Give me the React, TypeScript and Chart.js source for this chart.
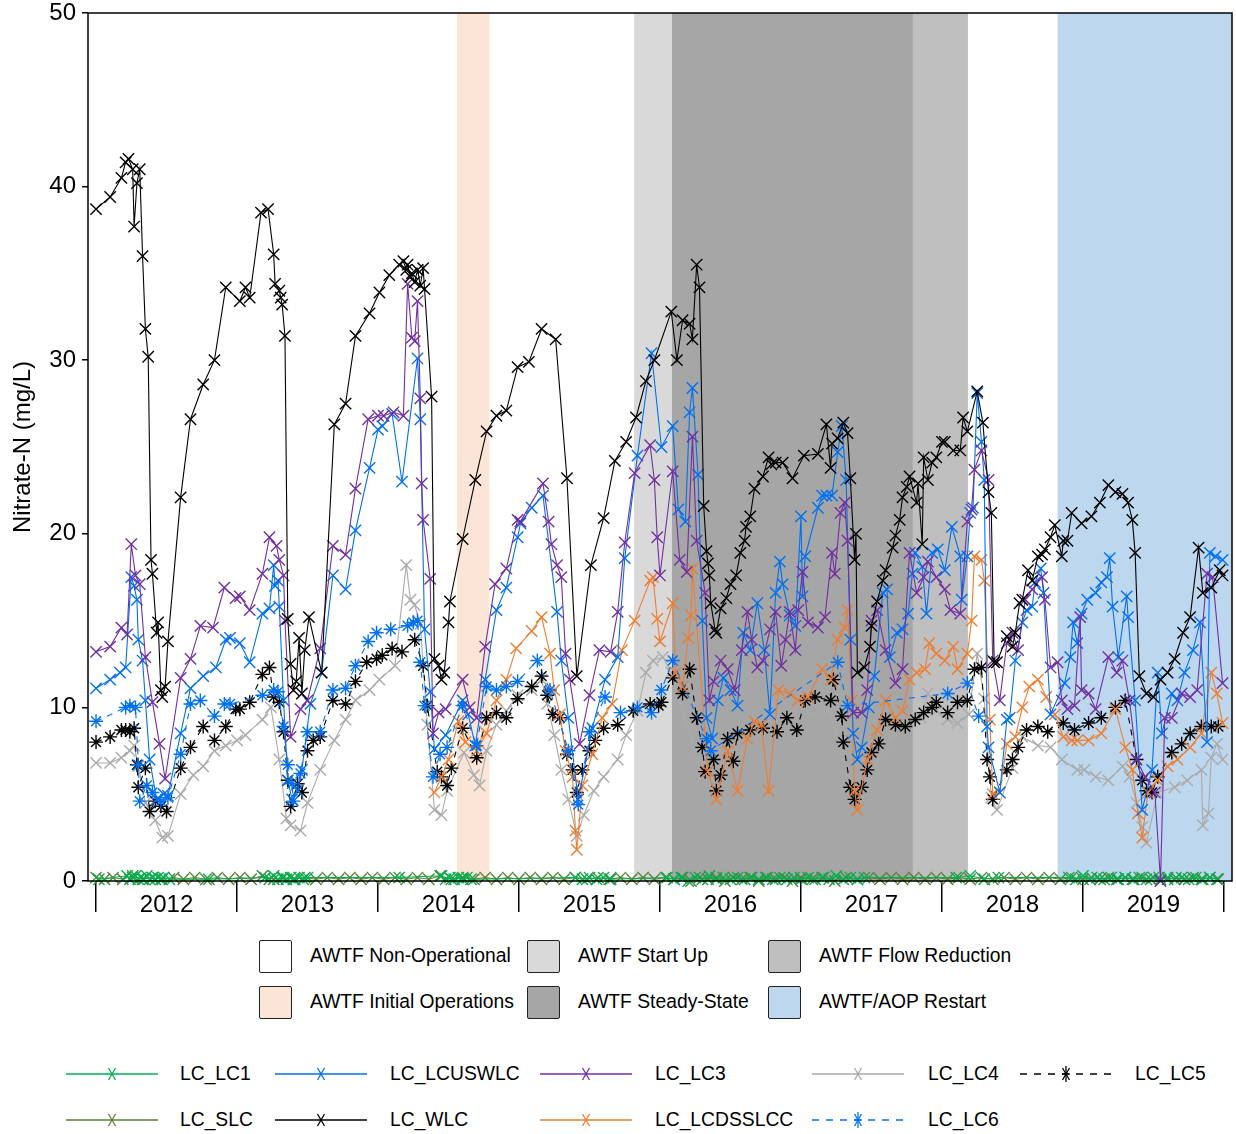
import React, { useEffect, useRef } from 'react';
import { Chart, registerables } from 'chart.js';
Chart.register(...registerables);

const FONT = '"Liberation Sans", Arial, Helvetica, sans-serif';

// ---------- axis ----------
const xMin = 2011.943;
const xMax = 2020.057;
const yearTicks = [2012, 2012.5, 2013, 2013.5, 2014, 2014.5, 2015, 2015.5, 2016, 2016.5, 2017, 2017.5, 2018, 2018.5, 2019, 2019.5, 2020];
const yTitle = 'Nitrate-N (mg/L)';

// ---------- operational periods (background bands) ----------
const bandLabels = ['AWTF Initial Operations', 'AWTF Start Up', 'AWTF Steady-State', 'AWTF Flow Reduction', 'AWTF/AOP Restart'];
const bandStart = [2014.56, 2015.816, 2016.085, 2017.794, 2018.82];
const bandEnd = [2014.79, 2016.085, 2017.794, 2018.184, 2020.06];
const bandColors = ['#fbe5d6', '#d9d9d9', '#a6a6a6', '#bfbfbf', '#bdd7ee'];

// ---------- series (decimal year, mg/L) ----------
const lcWLC: [number, number][] = [
  [2012.00,38.7],[2012.10,39.4],[2012.18,40.5],[2012.21,41.4],[2012.23,41.6],[2012.26,41.0],[2012.27,37.7],[2012.29,40.2],[2012.31,41.0],[2012.33,36.0],[2012.35,31.8],[2012.37,30.2],[2012.39,18.5],[2012.40,17.7],[2012.43,14.3],[2012.44,14.9],[2012.46,11.0],[2012.47,10.6],[2012.49,11.2],[2012.51,13.8],[2012.60,22.1],[2012.67,26.6],[2012.76,28.6],[2012.84,30.0],[2012.92,34.2],
  [2013.02,33.4],[2013.06,34.2],[2013.09,33.6],[2013.17,38.5],[2013.22,38.7],[2013.26,36.1],[2013.27,34.4],[2013.30,34.0],[2013.31,33.6],[2013.32,33.2],[2013.34,31.4],[2013.36,15.1],[2013.38,12.5],[2013.40,11.0],[2013.42,11.5],[2013.44,14.0],[2013.46,10.8],[2013.48,13.3],[2013.51,15.2],[2013.60,12.0],[2013.69,26.3],[2013.77,27.5],[2013.84,31.4],[2013.94,32.7],
  [2014.01,33.9],[2014.08,34.9],[2014.15,35.5],[2014.18,35.7],[2014.20,35.2],[2014.21,35.5],[2014.23,34.8],[2014.24,35.0],[2014.26,34.5],[2014.28,35.2],[2014.30,34.3],[2014.32,35.3],[2014.33,34.1],[2014.38,27.9],[2014.40,12.8],[2014.43,12.4],[2014.45,11.6],[2014.47,12.0],[2014.50,14.9],[2014.51,16.1],[2014.60,19.7],[2014.69,23.1],[2014.77,25.9],[2014.84,26.8],[2014.91,27.1],[2014.99,29.6],
  [2015.07,29.9],[2015.16,31.8],[2015.26,31.2],[2015.34,23.2],[2015.41,11.8],[2015.51,18.2],[2015.60,20.9],[2015.68,24.2],[2015.76,25.3],[2015.83,26.7],[2015.90,28.8],[2015.96,30.0],
  [2016.08,32.8],[2016.12,30.0],[2016.16,32.3],[2016.21,32.1],[2016.23,31.2],[2016.26,35.5],[2016.28,34.2],[2016.31,21.6],[2016.33,19.0],[2016.34,18.3],[2016.35,17.6],[2016.36,16.0],[2016.39,14.5],[2016.40,14.3],[2016.43,15.7],[2016.47,16.3],[2016.50,17.1],[2016.54,17.6],[2016.57,18.9],[2016.60,19.6],[2016.61,20.4],[2016.64,21.0],[2016.67,22.6],[2016.73,23.3],[2016.77,24.4],[2016.79,24.0],[2016.82,24.1],[2016.87,24.1],[2016.94,23.2],
  [2017.02,24.5],[2017.12,24.6],[2017.18,26.3],[2017.21,23.8],[2017.22,25.2],[2017.26,25.5],[2017.30,26.4],[2017.33,25.8],[2017.35,23.2],[2017.38,18.5],[2017.39,20.0],[2017.40,12.0],[2017.45,12.3],[2017.49,13.5],[2017.50,14.7],[2017.54,16.1],[2017.58,17.3],[2017.60,17.9],[2017.65,19.2],[2017.67,19.9],[2017.70,20.8],[2017.72,22.1],[2017.75,22.7],[2017.77,23.3],[2017.82,21.8],[2017.83,22.9],[2017.86,19.4],[2017.87,24.4],[2017.90,23.1],[2017.93,24.1],[2017.96,24.4],
  [2018.00,25.3],[2018.02,25.3],[2018.08,24.8],[2018.13,24.8],[2018.15,26.7],[2018.18,25.9],[2018.25,28.2],[2018.29,26.4],[2018.33,22.4],[2018.35,21.2],[2018.37,12.6],[2018.39,12.6],[2018.46,14.1],[2018.50,13.5],[2018.52,14.3],[2018.55,16.0],[2018.57,16.2],[2018.61,17.9],[2018.64,17.3],[2018.68,18.7],[2018.71,18.8],[2018.73,19.1],[2018.77,19.8],[2018.80,20.5],[2018.85,18.7],[2018.86,19.6],[2018.89,19.6],[2018.92,21.2],[2018.99,20.6],
  [2019.06,21.0],[2019.12,21.8],[2019.18,22.8],[2019.23,22.4],[2019.28,22.3],[2019.32,21.8],[2019.35,20.8],[2019.37,18.9],[2019.40,11.8],[2019.45,10.8],[2019.50,10.6],[2019.55,11.6],[2019.60,12.0],[2019.65,12.8],[2019.71,14.3],[2019.76,15.2],[2019.82,19.2],[2019.85,16.6],[2019.91,16.9],[2019.97,17.9],[2019.99,17.6]
];

const lcLC5: [number, number][] = [
  [2012.00,8.0],[2012.10,8.3],[2012.18,8.7],[2012.21,8.7],[2012.24,8.6],[2012.27,8.8],[2012.29,6.7],[2012.30,5.4],[2012.35,6.5],[2012.38,4.0],[2012.42,4.6],[2012.46,4.3],[2012.50,4.0],[2012.60,6.5],[2012.67,7.7],[2012.76,8.9],[2012.84,8.1],[2012.92,8.9],[2012.99,9.9],
  [2013.02,9.9],[2013.09,10.3],[2013.18,11.9],[2013.23,12.3],[2013.26,10.6],[2013.30,10.3],[2013.33,8.6],[2013.36,5.8],[2013.38,4.3],[2013.43,5.6],[2013.46,5.1],[2013.50,7.5],[2013.54,8.1],[2013.59,8.3],[2013.68,10.4],[2013.77,10.2],[2013.84,11.5],[2013.92,12.6],[2013.99,12.8],
  [2014.03,13.0],[2014.10,13.4],[2014.17,13.2],[2014.26,13.9],[2014.32,12.4],[2014.35,10.1],[2014.42,6.3],[2014.45,6.0],[2014.49,5.5],[2014.52,6.5],[2014.60,8.8],[2014.70,7.1],[2014.77,9.4],[2014.84,9.7],[2014.91,9.4],[2014.99,10.5],
  [2015.09,11.2],[2015.16,11.8],[2015.20,10.7],[2015.24,9.6],[2015.29,9.4],[2015.34,7.3],[2015.38,6.4],[2015.41,5.1],[2015.45,6.4],[2015.50,7.5],[2015.54,8.1],[2015.60,8.8],[2015.70,9.0],[2015.81,9.8],[2015.93,10.2],[2015.99,10.1],
  [2016.01,10.3],[2016.09,11.7],[2016.16,10.8],[2016.21,12.2],[2016.26,9.4],[2016.30,7.7],[2016.32,6.3],[2016.38,7.0],[2016.40,5.2],[2016.43,6.1],[2016.48,8.2],[2016.52,6.9],[2016.55,8.5],[2016.64,8.7],[2016.73,8.8],[2016.83,8.6],[2016.90,9.4],[2016.97,8.7],
  [2017.03,10.4],[2017.10,10.6],[2017.21,10.4],[2017.23,11.6],[2017.29,9.5],[2017.30,8.0],[2017.35,5.4],[2017.38,4.7],[2017.43,5.4],[2017.47,6.4],[2017.50,7.4],[2017.55,7.9],[2017.60,9.3],[2017.67,9.0],[2017.74,8.9],[2017.81,9.3],[2017.87,9.7],[2017.93,10.0],[2017.96,10.3],
  [2018.04,9.7],[2018.11,10.3],[2018.18,10.4],[2018.23,12.2],[2018.28,12.3],[2018.32,7.0],[2018.34,6.0],[2018.36,4.7],[2018.46,6.4],[2018.50,7.0],[2018.54,7.7],[2018.60,8.7],[2018.68,8.9],[2018.75,8.6],[2018.86,9.1],[2018.94,8.7],
  [2019.04,9.1],[2019.13,9.4],[2019.23,10.0],[2019.30,10.4],[2019.38,7.0],[2019.42,5.8],[2019.45,5.2],[2019.49,5.1],[2019.53,6.0],[2019.63,7.4],[2019.70,7.9],[2019.76,8.5],[2019.84,8.9],[2019.91,8.9],[2019.96,8.9]
];

const lcLC6: [number, number][] = [
  [2012.00,9.2],[2012.21,10.0],[2012.24,10.1],[2012.28,10.0],[2012.30,6.7],[2012.31,4.6],[2012.36,5.5],[2012.40,5.1],[2012.46,4.6],[2012.51,4.8],[2012.60,7.3],[2012.67,10.2],[2012.74,10.4],[2012.84,9.5],[2012.91,10.2],[2012.95,10.2],
  [2013.18,10.7],[2013.26,11.0],[2013.29,10.9],[2013.33,8.9],[2013.36,6.7],[2013.39,5.6],[2013.40,4.6],[2013.45,6.2],[2013.50,8.6],[2013.59,8.6],[2013.68,11.0],[2013.77,11.1],[2013.84,12.4],[2013.93,13.8],[2013.99,14.3],
  [2014.09,14.5],[2014.21,14.7],[2014.25,14.9],[2014.28,15.0],[2014.30,12.6],[2014.33,10.1],[2014.39,6.0],[2014.44,7.3],[2014.49,7.7],[2014.60,10.1],[2014.70,7.8],[2014.77,11.2],[2014.84,11.0],[2014.91,11.2],[2014.99,11.5],
  [2015.13,12.7],[2015.22,11.0],[2015.35,7.5],[2015.42,4.4],[2015.50,8.6],[2015.61,10.6],[2015.72,9.7],[2015.84,10.0],[2015.94,9.7],
  [2016.01,11.0],[2016.09,12.7],[2016.33,8.2],[2016.36,7.5],[2017.26,12.6],[2017.33,10.1],[2018.04,10.8],[2018.18,11.4],[2018.26,9.5]
];

const lcUSWLC: [number, number][] = [
  [2012.00,11.1],[2012.10,11.6],[2012.17,12.0],[2012.21,12.3],[2012.25,17.5],[2012.27,17.0],[2012.29,16.2],[2012.30,13.9],[2012.33,12.7],[2012.35,10.4],[2012.38,7.0],[2012.43,4.7],[2012.48,5.0],[2012.51,4.9],[2012.60,8.5],[2012.67,11.1],[2012.76,11.8],[2012.85,12.3],[2012.92,13.9],[2012.95,14.0],
  [2013.02,13.7],[2013.09,12.6],[2013.18,15.4],[2013.23,15.7],[2013.26,18.2],[2013.27,17.0],[2013.29,17.3],[2013.30,15.8],[2013.33,10.4],[2013.36,5.8],[2013.39,4.7],[2013.43,5.2],[2013.46,6.4],[2013.52,10.2],[2013.60,12.0],[2013.68,17.6],[2013.77,16.8],[2013.84,20.2],[2013.94,23.8],[2014.00,26.0],
  [2014.03,26.2],[2014.10,26.9],[2014.17,23.0],[2014.28,30.1],[2014.30,26.6],[2014.33,14.5],[2014.37,10.9],[2014.40,7.6],[2014.48,8.4],[2014.60,10.4],[2014.64,9.6],[2014.69,7.8],[2014.76,11.6],[2014.84,15.6],[2014.91,16.9],[2014.99,19.8],
  [2015.01,20.6],[2015.09,21.5],[2015.17,22.2],[2015.27,15.5],[2015.30,12.7],[2015.35,9.4],[2015.42,4.7],[2015.52,8.8],[2015.61,11.6],[2015.70,12.9],[2015.75,18.6],[2015.84,24.5],[2015.94,30.4],
  [2016.01,25.0],[2016.09,26.2],[2016.13,21.4],[2016.18,20.7],[2016.21,27.0],[2016.23,28.4],[2016.27,23.4],[2016.30,15.0],[2016.33,9.4],[2016.37,8.2],[2016.41,10.4],[2016.45,11.7],[2016.50,11.0],[2016.55,10.1],[2016.59,14.3],[2016.64,13.3],[2016.69,16.0],[2016.74,13.3],[2016.78,9.6],[2016.82,16.6],[2016.85,18.4],[2016.87,17.1],[2016.92,15.3],[2016.96,14.7],
  [2017.00,21.0],[2017.01,16.4],[2017.03,18.7],[2017.12,21.5],[2017.15,22.2],[2017.18,22.2],[2017.22,22.2],[2017.26,24.7],[2017.29,26.2],[2017.32,23.1],[2017.35,13.9],[2017.37,8.5],[2017.40,7.0],[2017.43,7.7],[2017.48,10.0],[2017.52,11.8],[2017.58,16.6],[2017.61,16.8],[2017.63,12.9],[2017.68,14.3],[2017.72,14.5],[2017.76,15.4],[2017.79,17.7],[2017.81,18.9],[2017.86,18.1],[2017.89,15.4],[2017.93,18.9],[2017.97,19.1],
  [2018.02,17.9],[2018.07,20.4],[2018.13,18.7],[2018.14,16.2],[2018.18,18.7],[2018.20,21.2],[2018.22,21.5],[2018.25,28.1],[2018.28,25.3],[2018.30,23.1],[2018.32,8.9],[2018.33,7.7],[2018.41,5.1],[2018.46,9.3],[2018.48,9.4],[2018.52,12.7],[2018.57,14.9],[2018.60,15.6],[2018.64,15.8],[2018.66,17.2],[2018.70,18.0],[2018.72,16.6],[2018.77,9.6],[2018.87,11.4],[2018.91,12.9],[2018.93,14.9],[2018.96,13.7],[2018.99,15.4],
  [2019.03,16.2],[2019.09,16.6],[2019.13,17.2],[2019.17,17.5],[2019.19,18.6],[2019.21,15.8],[2019.25,12.9],[2019.31,16.4],[2019.32,15.2],[2019.37,10.4],[2019.42,4.1],[2019.49,6.4],[2019.53,12.0],[2019.56,8.5],[2019.63,10.8],[2019.67,10.4],[2019.72,12.0],[2019.78,13.3],[2019.83,14.9],[2019.88,8.0],[2019.90,18.9],[2019.94,18.7],[2019.99,18.5]
];

const lcLC3: [number, number][] = [
  [2012.00,13.2],[2012.10,13.5],[2012.18,14.6],[2012.22,14.2],[2012.25,19.4],[2012.28,17.6],[2012.31,17.1],[2012.35,12.9],[2012.40,10.3],[2012.45,7.9],[2012.49,5.9],[2012.60,11.7],[2012.67,12.8],[2012.74,14.7],[2012.83,14.6],[2012.91,16.9],[2012.99,16.3],
  [2013.02,16.4],[2013.09,15.6],[2013.18,17.7],[2013.23,19.8],[2013.28,19.3],[2013.30,18.5],[2013.33,17.6],[2013.34,15.0],[2013.38,8.3],[2013.45,9.9],[2013.50,10.4],[2013.59,13.4],[2013.68,19.3],[2013.77,18.8],[2013.84,22.6],[2013.93,26.6],[2014.00,26.8],
  [2014.04,26.8],[2014.11,27.0],[2014.18,26.8],[2014.21,34.4],[2014.24,31.3],[2014.26,31.1],[2014.28,33.4],[2014.30,27.8],[2014.31,22.9],[2014.32,20.8],[2014.37,17.4],[2014.39,8.5],[2014.43,9.7],[2014.48,9.9],[2014.60,11.6],[2014.65,10.0],[2014.70,9.4],[2014.76,13.5],[2014.83,17.1],[2014.91,18.0],[2014.99,20.8],
  [2015.01,20.7],[2015.17,22.9],[2015.21,20.7],[2015.23,19.4],[2015.27,18.2],[2015.30,17.5],[2015.33,13.1],[2015.36,11.6],[2015.43,7.9],[2015.50,10.7],[2015.57,13.3],[2015.65,13.2],[2015.70,15.5],[2015.75,19.5],[2015.82,23.5],[2015.93,25.1],[2015.96,23.1],[2015.98,19.8],[2016.00,17.6],
  [2016.09,23.6],[2016.14,18.5],[2016.19,17.8],[2016.23,25.6],[2016.26,19.6],[2016.32,16.6],[2016.35,10.4],[2016.38,11.5],[2016.43,12.7],[2016.48,12.2],[2016.53,11.0],[2016.58,13.3],[2016.62,15.5],[2016.65,13.9],[2016.69,12.3],[2016.73,12.7],[2016.78,14.5],[2016.82,15.5],[2016.86,12.4],[2016.89,13.9],[2016.92,15.5],[2016.96,13.3],[2016.98,15.6],
  [2017.01,17.8],[2017.05,14.9],[2017.12,14.6],[2017.17,15.2],[2017.22,18.9],[2017.24,17.7],[2017.28,21.2],[2017.31,21.8],[2017.33,19.6],[2017.37,9.7],[2017.43,9.7],[2017.47,11.0],[2017.50,15.0],[2017.54,15.6],[2017.60,13.3],[2017.67,11.4],[2017.72,12.2],[2017.77,18.9],[2017.82,16.6],[2017.87,17.5],[2017.90,18.4],[2017.96,17.5],
  [2018.02,16.8],[2018.06,15.6],[2018.13,15.4],[2018.18,20.7],[2018.21,21.4],[2018.23,23.7],[2018.28,24.8],[2018.33,23.1],[2018.36,12.7],[2018.41,10.4],[2018.46,13.7],[2018.50,14.3],[2018.54,13.3],[2018.59,16.2],[2018.64,16.8],[2018.71,17.5],[2018.73,16.2],[2018.77,12.3],[2018.82,12.6],[2018.85,10.4],[2018.89,9.9],[2018.94,10.1],[2018.98,15.2],[2018.99,11.0],
  [2019.04,10.8],[2019.09,9.9],[2019.18,12.9],[2019.24,12.0],[2019.28,12.7],[2019.33,10.4],[2019.38,7.0],[2019.44,6.0],[2019.51,5.1],[2019.55,0.0],[2019.58,9.4],[2019.63,9.4],[2019.70,10.8],[2019.76,10.6],[2019.81,11.0],[2019.88,17.7],[2019.92,17.5],[2019.99,11.4]
];

const lcLC4: [number, number][] = [
  [2012.00,6.8],[2012.10,6.8],[2012.18,7.1],[2012.24,7.5],[2012.27,7.8],[2012.30,6.6],[2012.35,4.5],[2012.42,3.5],[2012.47,2.5],[2012.51,2.6],[2012.60,5.0],[2012.69,6.1],[2012.76,6.6],[2012.84,7.5],[2012.92,7.8],
  [2013.00,8.1],[2013.06,8.4],[2013.18,9.3],[2013.24,10.0],[2013.30,7.0],[2013.35,3.6],[2013.38,3.2],[2013.45,2.9],[2013.50,4.5],[2013.59,6.4],[2013.69,8.1],[2013.77,9.3],[2013.84,10.4],[2013.94,11.0],
  [2014.01,11.6],[2014.12,12.4],[2014.20,18.2],[2014.23,16.2],[2014.26,15.9],[2014.30,14.8],[2014.35,9.0],[2014.40,4.1],[2014.45,3.8],[2014.49,5.2],[2014.61,7.4],[2014.68,6.1],[2014.72,5.5],[2014.77,7.5],[2014.84,9.0],[2014.91,9.8],[2014.99,10.7],
  [2015.09,11.0],[2015.16,11.6],[2015.20,10.2],[2015.25,8.4],[2015.30,6.4],[2015.35,4.7],[2015.41,2.6],[2015.46,3.8],[2015.53,5.2],[2015.60,6.0],[2015.70,7.0],[2015.76,8.4],[2015.84,9.8],[2015.90,12.0],[2015.95,12.7],
  [2016.02,12.9],[2016.08,12.0],[2016.30,6.0],[2016.60,8.5],[2016.90,9.5],[2017.20,9.8],[2017.40,4.5],[2017.60,8.0],
  [2017.85,9.4],[2017.90,10.8],[2017.96,9.8],[2018.04,9.3],[2018.11,9.1],[2018.19,9.6],[2018.25,13.1],[2018.30,10.5],[2018.35,4.8],[2018.39,4.1],[2018.50,6.5],[2018.57,8.3],[2018.68,7.8],[2018.77,7.7],[2018.85,7.0],[2018.96,6.4],
  [2019.01,6.4],[2019.09,6.0],[2019.18,5.8],[2019.28,6.6],[2019.33,6.0],[2019.38,4.5],[2019.42,3.1],[2019.45,2.2],[2019.53,5.1],[2019.65,5.4],[2019.74,5.8],[2019.84,6.4],[2019.85,3.2],[2019.89,3.9],[2019.91,7.1],[2019.95,7.9],[2019.99,7.0]
];

const lcDSSLCC: [number, number][] = [
  [2014.40,5.1],[2014.45,6.0],[2014.50,7.0],[2014.57,9.2],[2014.62,8.0],[2014.70,7.5],[2014.77,8.5],[2014.84,10.4],[2014.91,11.6],[2014.98,13.4],
  [2015.09,14.4],[2015.16,15.2],[2015.22,13.1],[2015.25,11.0],[2015.29,9.6],[2015.33,7.5],[2015.38,6.0],[2015.40,2.9],[2015.41,1.8],[2015.45,5.5],[2015.52,7.3],[2015.59,9.4],[2015.66,10.2],[2015.73,13.3],[2015.82,15.0],[2015.93,17.3],[2015.95,17.5],[2015.98,15.1],
  [2016.00,13.8],[2016.09,16.0],[2016.11,12.0],[2016.16,11.2],[2016.20,14.0],[2016.22,15.3],[2016.23,18.0],[2016.34,6.3],[2016.40,4.7],[2016.48,7.5],[2016.55,5.2],[2016.62,8.2],[2016.67,9.2],[2016.72,9.0],[2016.77,5.2],[2016.84,11.0],[2016.92,10.8],[2016.98,10.4],
  [2017.05,10.6],[2017.15,12.2],[2017.21,11.6],[2017.26,13.9],[2017.31,14.6],[2017.33,15.6],[2017.36,10.4],[2017.38,5.2],[2017.40,4.1],[2017.47,7.0],[2017.54,8.7],[2017.60,10.4],[2017.67,9.4],[2017.72,9.8],[2017.77,11.6],[2017.82,12.0],[2017.88,12.2],[2017.91,13.7],[2017.96,13.1],
  [2018.02,12.7],[2018.08,13.5],[2018.11,12.2],[2018.18,13.1],[2018.21,15.0],[2018.23,18.7],[2018.28,18.5],[2018.30,17.3],[2018.34,9.3],[2018.36,5.0],[2018.41,5.1],[2018.46,7.9],[2018.52,8.3],[2018.57,10.0],[2018.62,11.2],[2018.68,11.6],[2018.74,10.6],[2018.80,9.6],[2018.86,8.3],[2018.92,8.1],[2018.96,8.1],
  [2019.04,8.1],[2019.13,8.5],[2019.23,9.9],[2019.30,7.7],[2019.35,6.4],[2019.39,3.9],[2019.42,2.5],[2019.46,5.1],[2019.53,5.8],[2019.60,6.6],[2019.67,7.0],[2019.76,7.7],[2019.84,8.5],[2019.91,12.0],[2019.95,10.8],[2019.99,9.1]
];

const lcLC1: [number, number][] = [
  [2012.02,0.1],[2012.22,0.3],[2012.24,0.1],[2012.26,0.2],[2012.28,0.3],[2012.30,0.1],[2012.32,0.2],[2012.34,0.1],[2012.36,0.3],[2012.38,0.1],[2012.40,0.2],[2012.42,0.1],[2012.44,0.2],[2012.46,0.1],[2012.48,0.2],[2012.52,0.1],[2012.80,0.1],
  [2013.20,0.2],[2013.23,0.1],[2013.26,0.3],[2013.29,0.1],[2013.32,0.2],[2013.35,0.1],[2013.38,0.2],[2013.41,0.1],[2013.44,0.2],[2013.47,0.1],[2013.50,0.2],
  [2014.15,0.2],[2014.45,0.3],[2014.48,0.1],[2014.51,0.2],[2014.54,0.1],[2014.57,0.2],[2014.60,0.1],[2014.63,0.2],[2014.66,0.1],
  [2015.40,0.2],[2015.45,0.1],[2015.50,0.2],[2015.55,0.1],[2015.60,0.2],[2015.65,0.1],
  [2016.05,0.2],[2016.10,0.1],[2016.15,0.2],[2016.20,0.0],[2016.25,0.2],[2016.30,0.1],[2016.35,0.3],[2016.40,0.1],[2016.45,0.2],[2016.50,0.1],[2016.55,0.2],[2016.60,0.1],[2016.65,0.2],[2016.70,0.1],[2016.75,0.2],[2016.80,0.1],[2016.85,0.2],[2016.90,0.1],[2016.95,0.2],
  [2017.00,0.1],[2017.05,0.2],[2017.10,0.1],[2017.15,0.2],[2017.20,0.1],[2017.25,0.3],[2017.30,0.1],[2017.35,0.2],[2017.40,0.1],[2017.45,0.2],
  [2018.10,0.2],[2018.20,0.3],[2018.30,0.1],[2018.40,0.2],
  [2018.90,0.2],[2018.95,0.1],[2019.00,0.3],[2019.05,0.1],[2019.10,0.2],[2019.15,0.1],[2019.20,0.2],[2019.25,0.1],[2019.30,0.2],[2019.35,0.1],[2019.40,0.2],[2019.45,0.1],[2019.50,0.2],[2019.55,0.1],[2019.60,0.2],[2019.65,0.1],[2019.70,0.2],[2019.75,0.1],[2019.80,0.2],[2019.85,0.1],[2019.90,0.2],[2019.95,0.1]
];

const lcSLC: [number, number][] = [
  [2012.00,0.2],[2012.06,0.1],[2012.12,0.2],[2012.19,0.1],[2012.26,0.3],[2012.33,0.1],[2012.40,0.2],[2012.47,0.1],[2012.55,0.2],[2012.62,0.1],[2012.70,0.2],[2012.78,0.1],[2012.86,0.2],[2012.94,0.1],
  [2013.02,0.2],[2013.10,0.1],[2013.18,0.3],[2013.26,0.1],[2013.33,0.2],[2013.40,0.1],[2013.48,0.2],[2013.56,0.1],[2013.64,0.2],[2013.72,0.1],[2013.80,0.2],[2013.88,0.1],[2013.96,0.2],
  [2014.04,0.1],[2014.12,0.2],[2014.20,0.1],[2014.28,0.2],[2014.36,0.1],[2014.44,0.3],[2014.52,0.1],[2014.60,0.2],[2014.68,0.1],[2014.76,0.2],[2014.84,0.1],[2014.92,0.2],
  [2015.00,0.1],[2015.08,0.2],[2015.16,0.1],[2015.24,0.2],[2015.32,0.1],[2015.40,0.2],[2015.48,0.1],[2015.56,0.2],[2015.64,0.1],[2015.72,0.2],[2015.80,0.1],[2015.88,0.2],[2015.96,0.1],
  [2016.04,0.2],[2016.10,0.1],[2016.16,0.2],[2016.22,0.0],[2016.28,0.2],[2016.34,0.1],[2016.40,0.2],[2016.46,0.0],[2016.52,0.2],[2016.58,0.1],[2016.64,0.2],[2016.70,0.0],[2016.76,0.2],[2016.82,0.1],[2016.88,0.2],[2016.94,0.0],
  [2017.00,0.2],[2017.08,0.1],[2017.16,0.2],[2017.24,0.0],[2017.32,0.2],[2017.40,0.1],[2017.48,0.2],[2017.56,0.1],[2017.64,0.2],[2017.72,0.1],[2017.80,0.2],[2017.88,0.1],[2017.96,0.2],
  [2018.04,0.1],[2018.12,0.2],[2018.20,0.1],[2018.28,0.2],[2018.36,0.1],[2018.44,0.2],[2018.52,0.1],[2018.60,0.2],[2018.68,0.1],[2018.76,0.2],[2018.84,0.1],[2018.92,0.2],
  [2019.00,0.1],[2019.06,0.2],[2019.12,0.1],[2019.18,0.2],[2019.24,0.1],[2019.30,0.2],[2019.36,0.1],[2019.42,0.2],[2019.48,0.1],[2019.54,0.2],[2019.60,0.1],[2019.66,0.2],[2019.72,0.1],[2019.78,0.2],[2019.84,0.1],[2019.90,0.2],[2019.96,0.1]
];

// ---------- series styling ----------
type SeriesDef = { name: string; data: [number, number][]; color: string; dashed: boolean; star: boolean };
const seriesDefs: SeriesDef[] = [
  { name: 'LC_LC6', data: lcLC6, color: '#0070f0', dashed: true, star: true },
  { name: 'LC_WLC', data: lcWLC, color: '#000000', dashed: false, star: false },
  { name: 'LC_LC3', data: lcLC3, color: '#7030a0', dashed: false, star: false },
  { name: 'LC_LCUSWLC', data: lcUSWLC, color: '#0070f0', dashed: false, star: false },
  { name: 'LC_LCDSSLCC', data: lcDSSLCC, color: '#ed7d31', dashed: false, star: false },
  { name: 'LC_LC5', data: lcLC5, color: '#000000', dashed: true, star: true },
  { name: 'LC_LC4', data: lcLC4, color: '#aaaaaa', dashed: false, star: false },
  { name: 'LC_LC1', data: lcLC1, color: '#00b050', dashed: false, star: false },
  { name: 'LC_SLC', data: lcSLC, color: '#548235', dashed: false, star: false },
];

// legend layout (page pixels)
const bandLegend = [
  { label: 'AWTF Non-Operational', color: '#ffffff', x: 259, y: 940 },
  { label: 'AWTF Start Up', color: '#d9d9d9', x: 527, y: 940 },
  { label: 'AWTF Flow Reduction', color: '#bfbfbf', x: 768, y: 940 },
  { label: 'AWTF Initial Operations', color: '#fbe5d6', x: 259, y: 986 },
  { label: 'AWTF Steady-State', color: '#a6a6a6', x: 527, y: 986 },
  { label: 'AWTF/AOP Restart', color: '#bdd7ee', x: 768, y: 986 },
];
const seriesLegend = [
  { name: 'LC_LC1', x: 66, tx: 180, y: 1074 },
  { name: 'LC_LCUSWLC', x: 275, tx: 390, y: 1074 },
  { name: 'LC_LC3', x: 540, tx: 655, y: 1074 },
  { name: 'LC_LC4', x: 812, tx: 928, y: 1074 },
  { name: 'LC_LC5', x: 1020, tx: 1135, y: 1074 },
  { name: 'LC_SLC', x: 66, tx: 180, y: 1120 },
  { name: 'LC_WLC', x: 275, tx: 390, y: 1120 },
  { name: 'LC_LCDSSLCC', x: 540, tx: 655, y: 1120 },
  { name: 'LC_LC6', x: 812, tx: 928, y: 1120 },
];

function LegendGlyph({ def }: { def: SeriesDef }) {
  const w = 92;
  const c = w / 2;
  return (
    <svg width={w} height={20} style={{ display: 'block' }}>
      <line x1={0} y1={10} x2={w} y2={10} stroke={def.color} strokeWidth={1.3} strokeDasharray={def.dashed ? '7 7' : undefined} />
      <line x1={c - 3.5} y1={4} x2={c + 3.5} y2={16} stroke={def.color} strokeWidth={1.3} />
      <line x1={c + 3.5} y1={4} x2={c - 3.5} y2={16} stroke={def.color} strokeWidth={1.3} />
      {def.star ? <line x1={c} y1={2} x2={c} y2={18} stroke={def.color} strokeWidth={1.3} /> : null}
      {def.star ? <line x1={c - 4} y1={10} x2={c + 4} y2={10} stroke={def.color} strokeWidth={1.3} /> : null}
    </svg>
  );
}

export default function App() {
  const ref = useRef<HTMLCanvasElement>(null);

  useEffect(() => {
    document.body.style.margin = '0';
    const canvas = ref.current;
    if (!canvas) return;

    const bandsPlugin = {
      id: 'bands',
      beforeDatasetsDraw(chart: any) {
        const { ctx, chartArea, scales } = chart;
        ctx.save();
        ctx.beginPath();
        ctx.rect(chartArea.left, chartArea.top, chartArea.right - chartArea.left, chartArea.bottom - chartArea.top);
        ctx.clip();
        for (let i = 0; i < bandLabels.length; i++) {
          const x0 = scales.x.getPixelForValue(bandStart[i]);
          const x1 = scales.x.getPixelForValue(bandEnd[i]);
          ctx.fillStyle = bandColors[i];
          ctx.fillRect(x0, chartArea.top, x1 - x0, chartArea.bottom - chartArea.top);
        }
        ctx.restore();
      },
    };
    const framePlugin = {
      id: 'frame',
      afterDatasetsDraw(chart: any) {
        const { ctx, chartArea } = chart;
        ctx.save();
        ctx.strokeStyle = '#000';
        ctx.lineWidth = 1.5;
        ctx.strokeRect(chartArea.left, chartArea.top, chartArea.right - chartArea.left, chartArea.bottom - chartArea.top);
        ctx.restore();
      },
    };

    const datasets = seriesDefs.map((d) => ({
      label: d.name,
      data: d.data.slice().sort((a, b) => a[0] - b[0]).map(([x, y]) => ({ x, y })),
      borderColor: d.color,
      backgroundColor: d.color,
      borderWidth: 1.1,
      borderDash: d.dashed ? [6, 6] : [],
      pointStyle: d.star ? 'star' : 'crossRot',
      pointRadius: d.star ? 7 : 8,
      pointBorderWidth: 1.4,
      pointBorderColor: d.color,
      pointBackgroundColor: d.color,
      tension: 0,
      clip: false as any,
    }));

    const chart = new Chart(canvas, {
      type: 'line',
      data: { datasets },
      plugins: [bandsPlugin, framePlugin],
      options: {
        animation: false,
        responsive: false,
        devicePixelRatio: 1,
        layout: { autoPadding: false, padding: { top: 13, right: 4, left: 0, bottom: 0 } },
        plugins: { legend: { display: false }, tooltip: { enabled: false } },
        scales: {
          x: {
            type: 'linear',
            min: xMin,
            max: xMax,
            afterBuildTicks: (s: any) => {
              s.ticks = yearTicks.map((v) => ({ value: v }));
            },
            afterFit: (s: any) => {
              s.height = 49;
              s.paddingLeft = 0;
              s.paddingRight = 0;
            },
            border: { display: false },
            grid: {
              drawOnChartArea: false,
              drawTicks: true,
              tickLength: 31,
              lineWidth: 1.5,
              color: (c: any) => (c.tick && Number.isInteger(c.tick.value) ? '#000' : 'rgba(0,0,0,0)'),
            },
            ticks: {
              autoSkip: false,
              maxRotation: 0,
              minRotation: 0,
              padding: -21,
              color: '#000',
              font: { family: FONT, size: 24 },
              callback: (v: any) => (Number(v) % 1 === 0.5 ? String(Math.floor(Number(v))) : ''),
            },
          },
          y: {
            min: 0,
            max: 50,
            afterFit: (s: any) => {
              s.width = 88;
              s.paddingTop = 0;
              s.paddingBottom = 0;
            },
            border: { display: false },
            grid: { drawOnChartArea: false, drawTicks: true, tickLength: 6, color: '#000', lineWidth: 1.5 },
            ticks: { stepSize: 10, padding: 6, color: '#000', font: { family: FONT, size: 24 } },
            title: { display: true, text: yTitle, color: '#000', font: { family: FONT, size: 24 }, padding: { top: 9, bottom: 0 } },
          },
        },
      },
    });
    return () => chart.destroy();
  }, []);

  const defByName = (n: string) => seriesDefs.find((d) => d.name === n)!;

  return (
    <div style={{ position: 'relative', width: 1236, height: 1134, background: '#fff', fontFamily: FONT, color: '#000' }}>
      <canvas ref={ref} width={1236} height={930} style={{ position: 'absolute', left: 0, top: 0, width: 1236, height: 930 }} />
      {bandLegend.map((b) => (
        <div key={b.label}>
          <div
            style={{
              position: 'absolute', left: b.x, top: b.y, width: 31, height: 31,
              background: b.color, border: '1.5px solid #222', borderRadius: 2,
            }}
          />
          <div style={{ position: 'absolute', left: b.x + 51, top: b.y + 4, fontSize: 19.3, lineHeight: '24px', whiteSpace: 'nowrap' }}>
            {b.label}
          </div>
        </div>
      ))}
      {seriesLegend.map((s) => (
        <div key={s.name}>
          <div style={{ position: 'absolute', left: s.x, top: s.y - 10 }}>
            <LegendGlyph def={defByName(s.name)} />
          </div>
          <div style={{ position: 'absolute', left: s.tx, top: s.y - 12, fontSize: 19.3, lineHeight: '24px', whiteSpace: 'nowrap' }}>
            {s.name}
          </div>
        </div>
      ))}
    </div>
  );
}
